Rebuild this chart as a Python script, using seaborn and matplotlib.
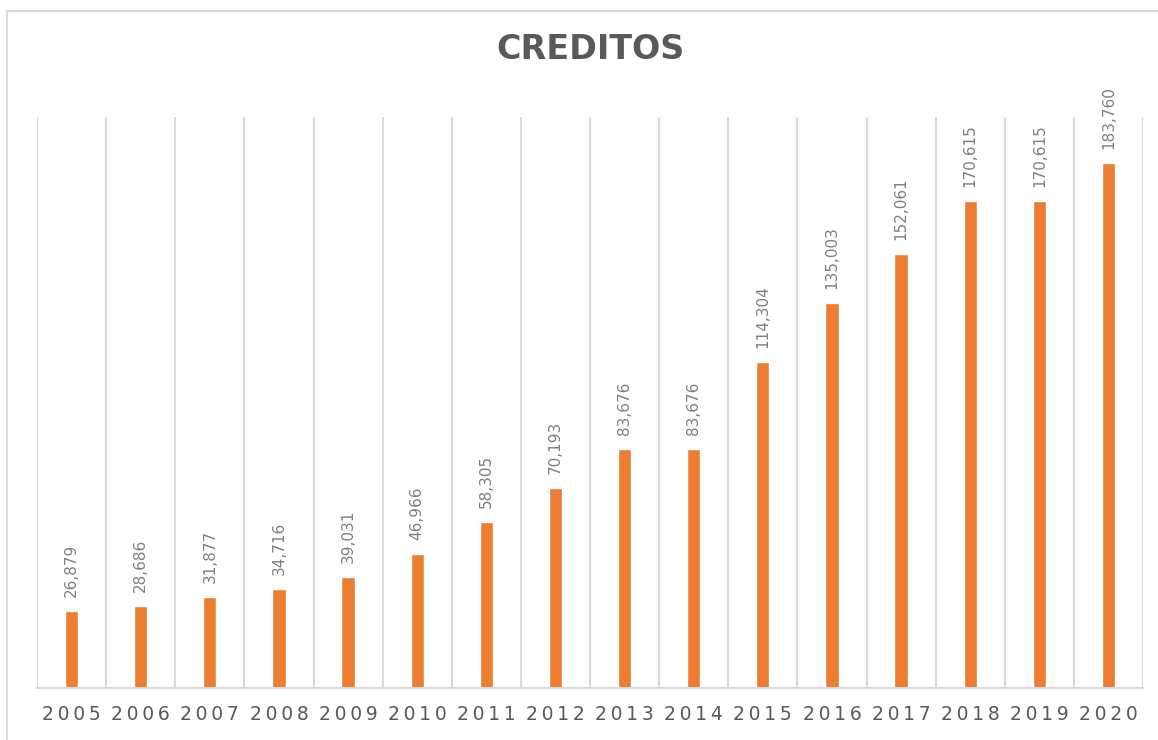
import pandas as pd
import matplotlib
matplotlib.use("Agg")
import matplotlib.pyplot as plt
from matplotlib.lines import Line2D
import seaborn as sns

# Data
years = ["2005", "2006", "2007", "2008", "2009", "2010", "2011", "2012",
         "2013", "2014", "2015", "2016", "2017", "2018", "2019", "2020"]
creditos = [26879, 28686, 31877, 34716, 39031, 46966, 58305, 70193,
            83676, 83676, 114304, 135003, 152061, 170615, 170615, 183760]

df = pd.DataFrame({"year": years, "creditos": creditos})

sns.set_style("white")
plt.rcParams["font.family"] = ["DejaVu Sans"]

grid_color = "#d9d9d9"
text_color = "#595959"

fig = plt.figure(figsize=(11.58, 7.40), dpi=100)
ax = fig.add_axes([37 / 1158, 1 - 688 / 740, (1143 - 37) / 1158, (688 - 117) / 740])

sns.barplot(data=df, x="year", y="creditos", color="#ED7D31", width=0.19,
            saturation=1, ax=ax)

ax.set_xlim(-0.5, len(years) - 0.5)
ax.set_ylim(0, 200000)

# labels on bars
ax.bar_label(ax.containers[0], labels=[f"{v:,}" for v in creditos],
             rotation=90, padding=10, fontsize=11, color="#7f7f7f")

# vertical lines between categories
ax.set_xticks([i - 0.5 for i in range(len(years) + 1)], minor=True)
ax.grid(True, which="minor", axis="x", color=grid_color, linewidth=1.5)
ax.grid(False, which="major")
ax.set_yticks([])

ax.set_xticks(range(len(years)))
ax.set_xticklabels(["\u2009".join(y) for y in years], fontsize=13.5, color=text_color)
ax.tick_params(axis="x", which="both", length=0, pad=12)

for side in ["top", "right", "left"]:
    ax.spines[side].set_visible(False)
ax.spines["bottom"].set_color(grid_color)
ax.spines["bottom"].set_linewidth(1.5)

ax.set_xlabel("")
ax.set_ylabel("")

ax.set_title("CREDITOS", fontsize=24, fontweight="bold", color=text_color, pad=42)

# outer chart border
fig.add_artist(Line2D([7 / 1158, 1], [1 - 11 / 740, 1 - 11 / 740],
                      transform=fig.transFigure, color=grid_color, linewidth=1.5))
fig.add_artist(Line2D([7 / 1158, 7 / 1158], [0, 1 - 11 / 740],
                      transform=fig.transFigure, color=grid_color, linewidth=1.5))

fig.savefig("out.png", dpi=100, facecolor="white")
